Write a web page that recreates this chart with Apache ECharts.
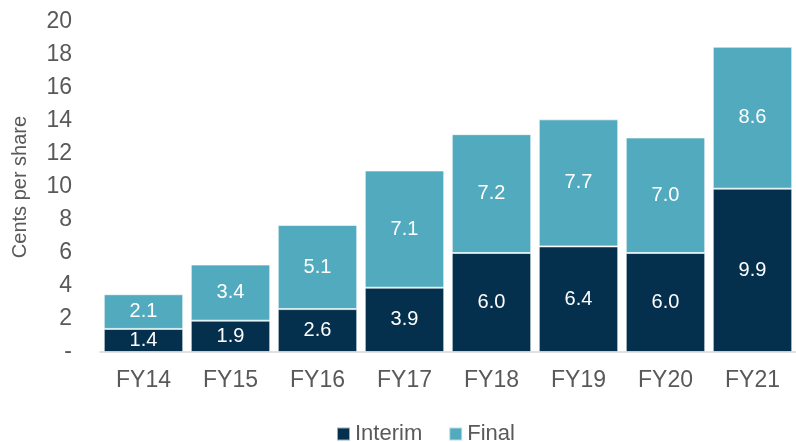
<!DOCTYPE html>
<html>
<head>
<meta charset="utf-8">
<script src="https://cdn.jsdelivr.net/npm/echarts@6/dist/echarts.min.js"></script>
<style>
  html, body { margin: 0; padding: 0; background: #fff; }
  #root { width: 796px; height: 442px; }
</style>
</head>
<body>
<div id="root"></div>
<script>
const categories = ['FY14', 'FY15', 'FY16', 'FY17', 'FY18', 'FY19', 'FY20', 'FY21'];
const interim = [1.4, 1.9, 2.6, 3.9, 6.0, 6.4, 6.0, 9.9];
const final = [2.1, 3.4, 5.1, 7.1, 7.2, 7.7, 7.0, 8.6];

const FONT = '"Liberation Sans", Arial, sans-serif';
const TEXT = '#595959';

const makeSeries = (name, data, color) => ({
  name,
  type: 'bar',
  stack: 'total',
  data,
  barCategoryGap: '8.7%',
  itemStyle: { color, borderColor: 'rgba(255,255,255,0.6)', borderWidth: 1 },
  label: {
    show: true,
    position: 'inside',
    color: '#fff',
    fontFamily: FONT,
    fontSize: 20,
    formatter: p => p.value.toFixed(1)
  }
});

const myChart = echarts.init(document.getElementById('root'));

const option = {
  animation: false,
  grid: { left: 100, right: -4, top: 22, bottom: 90 },
  legend: {
    data: ['Interim', 'Final'],
    top: 418,
    left: 331,
    itemWidth: 13,
    itemHeight: 13,
    itemGap: 26,
    icon: 'rect',
    textStyle: { color: TEXT, fontFamily: FONT, fontSize: 22 }
  },
  xAxis: {
    type: 'category',
    data: categories,
    axisLine: { show: true, lineStyle: { color: '#d9d9d9', width: 1.5 } },
    axisTick: { show: false },
    axisLabel: { color: TEXT, fontFamily: FONT, fontSize: 23, margin: 17 }
  },
  yAxis: {
    type: 'value',
    min: 0,
    max: 20,
    interval: 2,
    name: 'Cents per share',
    nameLocation: 'middle',
    nameGap: 70,
    nameRotate: 90,
    nameTextStyle: { color: TEXT, fontFamily: FONT, fontSize: 20 },
    splitLine: { show: false },
    axisLine: { show: false },
    axisTick: { show: false },
    axisLabel: {
      color: TEXT,
      fontFamily: FONT,
      fontSize: 23,
      margin: 28,
      formatter: v => (v === 0 ? '-' : String(v))
    }
  },
  series: [
    makeSeries('Interim', interim, '#05304d'),
    makeSeries('Final', final, '#51aabe')
  ]
};

myChart.setOption(option);

window.onresize = () => myChart.resize();
</script>
</body>
</html>
